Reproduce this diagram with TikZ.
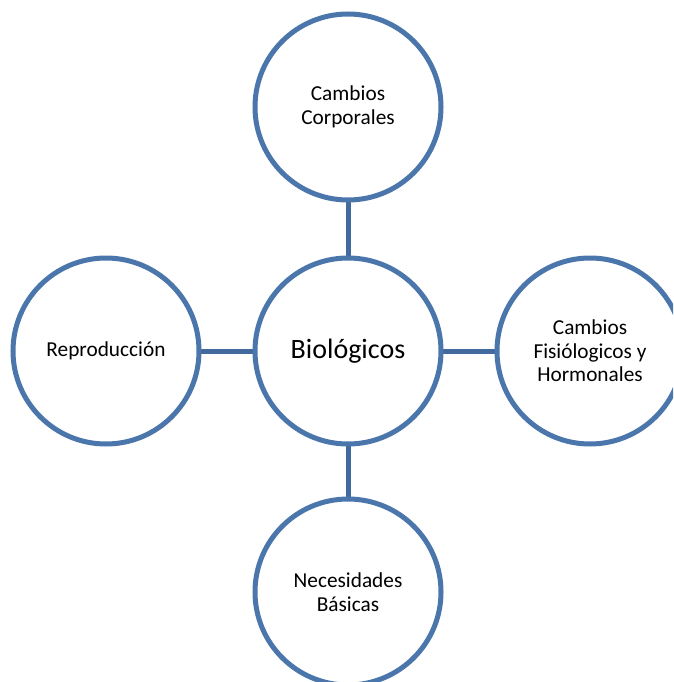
\documentclass[tikz,border=0pt]{standalone}
\usepackage{fontspec}
\setmainfont{Carlito}
\definecolor{ringblue}{RGB}{74,118,172}
\definecolor{linkblue}{RGB}{66,106,158}
\begin{document}
\begin{tikzpicture}[x=1pt,y=-1pt,
  ring/.style={circle,draw=ringblue,line width=5pt,fill=white,minimum size=186pt,inner sep=0pt,align=center,
    font=\fontsize{21.3}{23.5}\selectfont},
  hub/.style={ring,font=\fontsize{28}{32}\selectfont},
  link/.style={draw=linkblue,line width=5pt}]
\clip (0,0) rectangle (673,682);
\fill[white] (0,0) rectangle (673,682);
\coordinate (c0) at (348,351);
\draw[link] (348,107) -- (348,592);
\draw[link] (106,351) -- (590,351);
\node[hub] (bio) at (348,351) {Biológicos};
\node[ring] (top) at (348,107) {Cambios\\Corporales};
\node[ring] (left) at (106,351) {Reproducción};
\node[ring] (right) at (590,351) {Cambios\\Fisiólogicos y\\Hormonales};
\node[ring] (bottom) at (348,592) {Necesidades\\Básicas};
\end{tikzpicture}
\end{document}
